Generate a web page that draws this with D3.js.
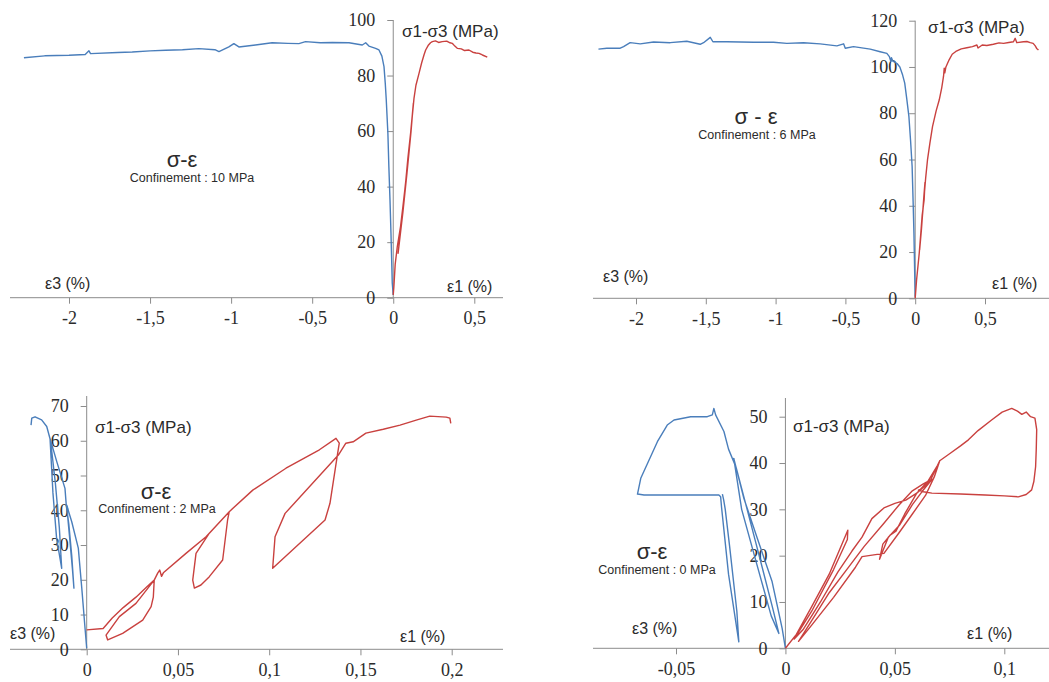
<!DOCTYPE html>
<html><head><meta charset="utf-8">
<script src="https://cdn.jsdelivr.net/npm/d3@7"></script>
<style>
html,body{margin:0;padding:0;background:#fff;}
svg{display:block;}
</style></head>
<body>
<svg id="chart" width="1049" height="682"></svg>
<script>
// ---------- DATA ----------
const panelTitles = ["σ-ε", "σ - ε", "σ-ε", "σ-ε"];
const confinementLabels = ["Confinement : 10 MPa", "Confinement : 6 MPa", "Confinement : 2 MPa", "Confinement : 0 MPa"];
const yAxisLabel = "σ1-σ3 (MPa)";
const eps3Label = "ε3 (%)";
const eps1Label = "ε1 (%)";

// Tick values
const p1XTicks = [-2, -1.5, -1, -0.5, 0, 0.5];
const p1YTicks = [0, 20, 40, 60, 80, 100];
const p2XTicks = [-2, -1.5, -1, -0.5, 0, 0.5];
const p2YTicks = [0, 20, 40, 60, 80, 100, 120];
const p3XTicks = [0, 0.05, 0.1, 0.15, 0.2];
const p3YTicks = [0, 10, 20, 30, 40, 50, 60, 70];
const p4XTicks = [-0.05, 0, 0.05, 0.1];
const p4YTicks = [0, 10, 20, 30, 40, 50];

// Panel 1 (confinement 10 MPa): [strain %, deviatoric stress MPa]
const p1Blue = [[-2.278,86.4],[-2.15,87.1],[-2.0,87.3],[-1.9,87.6],[-1.877,88.9],[-1.867,87.9],[-1.7,88.3],[-1.61,88.5],[-1.5,88.9],[-1.404,89.1],[-1.3,89.3],[-1.199,89.7],[-1.1,89.3],[-1.075,88.6],[-1.014,90.3],[-0.983,91.5],[-0.952,90.3],[-0.85,91],[-0.747,91.8],[-0.65,91.6],[-0.582,91.5],[-0.541,92.2],[-0.45,91.8],[-0.376,91.9],[-0.273,91.8],[-0.191,91.0],[-0.17,91.8],[-0.15,90.6],[-0.109,89.8],[-0.088,89.2],[-0.07,87],[-0.057,83.2],[-0.049,77],[-0.043,71.2],[-0.033,59.2],[-0.027,47.2],[-0.02,35.2],[-0.014,23.2],[-0.006,5.2],[0,1]];
const p1Red = [[0,1],[0.004,4],[0.012,12],[0.025,18.4],[0.035,22],[0.045,25.6],[0.06,33],[0.076,41.2],[0.09,50],[0.107,59.2],[0.118,66],[0.124,70],[0.11,60],[0.085,45],[0.06,31],[0.04,21],[0.03,16],[0.05,27],[0.07,38],[0.09,49],[0.107,59],[0.128,71.8],[0.14,76.5],[0.159,80.8],[0.175,84.5],[0.19,87.5],[0.2,89.2],[0.215,90.8],[0.23,91.8],[0.241,92.2],[0.26,92.5],[0.28,91.9],[0.302,92.2],[0.33,92.4],[0.35,91.8],[0.364,91.6],[0.38,90.6],[0.395,89.8],[0.42,89.6],[0.44,89.0],[0.467,89.2],[0.49,88.4],[0.51,88.1],[0.529,88],[0.55,87.4],[0.58,86.6]];

// Panel 2 (confinement 6 MPa)
const p2Blue = [[-2.269,107.7],[-2.209,108.1],[-2.113,108.1],[-2.089,108.8],[-2.042,110.5],[-1.97,110.0],[-1.874,110.8],[-1.755,110.5],[-1.636,111.1],[-1.54,109.8],[-1.516,110.5],[-1.468,112.8],[-1.449,110.9],[-1.349,110.9],[-1.158,110.7],[-1.015,110.7],[-0.919,110.2],[-0.8,110.5],[-0.681,110.0],[-0.561,109.1],[-0.513,110.0],[-0.501,108.1],[-0.442,108.8],[-0.322,107.7],[-0.251,106.6],[-0.203,105.9],[-0.185,104.5],[-0.175,102.5],[-0.17,104],[-0.16,102.5],[-0.13,101.5],[-0.11,100],[-0.09,96.5],[-0.075,93],[-0.06,86],[-0.045,78.5],[-0.033,68],[-0.022,57],[-0.015,42],[-0.009,28],[-0.004,12],[0,0.7]];
const p2Red = [[0,0],[0.01,8],[0.029,19.5],[0.04,28],[0.05,36],[0.064,42.5],[0.07,50],[0.062,44],[0.045,30],[0.032,21],[0.045,31],[0.064,44],[0.075,52],[0.088,59.8],[0.105,67],[0.124,74.2],[0.15,81],[0.172,85.7],[0.19,91],[0.203,96],[0.208,99.5],[0.212,97.5],[0.22,100],[0.243,103.1],[0.265,105.5],[0.291,106.7],[0.33,107.8],[0.37,108.3],[0.41,108.8],[0.442,109.5],[0.45,108.2],[0.48,109.5],[0.513,109.3],[0.56,109.8],[0.6,110.4],[0.633,110.2],[0.67,110.6],[0.704,110.9],[0.716,112.4],[0.728,110.5],[0.776,110.9],[0.8,111],[0.824,110.5],[0.845,110.2],[0.86,109.1],[0.87,108],[0.883,107.3]];

// Panel 3 (confinement 2 MPa)
const p3Blue = [[0,0.3],[-0.0009,6],[-0.0027,17.6],[-0.0046,29.1],[-0.0082,36.7],[-0.011,41.5],[-0.0095,33],[-0.0078,23],[-0.007,17.6],[-0.0082,27],[-0.0098,36],[-0.0112,41.5],[-0.0119,46.3],[-0.0164,54],[-0.0201,60.7],[-0.0185,45],[-0.0165,32],[-0.0137,23.3],[-0.015,35],[-0.0172,48],[-0.0198,60],[-0.0219,64.1],[-0.0247,66],[-0.0283,66.9],[-0.0301,66.5],[-0.0305,64.5]];
const p3Red = [[0,5.6],[0.009,6],[0.014,9],[0.02,12],[0.027,15],[0.033,18],[0.037,19.9],[0.0365,15],[0.0353,12.3],[0.0307,8.4],[0.0197,4.6],[0.0115,2.7],[0.0106,4.1],[0.0179,9.4],[0.027,13.2],[0.037,19.9],[0.0389,21.9],[0.040,22.8],[0.041,21],[0.042,22],[0.0544,27.6],[0.0654,32.4],[0.0781,39.6],[0.0772,37.2],[0.0745,25.7],[0.0672,20.9],[0.0626,18.5],[0.059,17.6],[0.0581,19.9],[0.0599,27.6],[0.0672,33.4],[0.0781,39.6],[0.091,45.8],[0.1092,52.1],[0.1275,57.4],[0.1366,60.7],[0.1384,59.3],[0.1375,56.4],[0.1333,42],[0.1306,37.2],[0.1019,23.3],[0.1032,32.4],[0.1087,39.1],[0.1379,55.9],[0.142,59.3],[0.146,59.7],[0.153,62.2],[0.1625,63.3],[0.1717,64.5],[0.181,66],[0.188,67.1],[0.197,66.8],[0.199,66.5],[0.1995,65]];

// Panel 4 (confinement 0 MPa)
const p4Blue = [[0,0],[-0.0015,4.3],[-0.0061,14.4],[-0.0129,23.8],[-0.019,32.4],[-0.0236,41],[-0.02,30],[-0.013,18],[-0.0065,7],[-0.003,3.2],[-0.006,9],[-0.012,20],[-0.0175,30],[-0.0225,39],[-0.026,43],[-0.0281,46.8],[-0.0319,50.4],[-0.0327,51.8],[-0.0334,50.4],[-0.0357,50],[-0.0433,50],[-0.0509,49.3],[-0.054,48.2],[-0.0585,44.6],[-0.0661,36.7],[-0.0676,33.3],[-0.0646,33.1],[-0.0433,33.1],[-0.0304,33.1],[-0.0296,32.7],[-0.0292,30.5],[-0.026,16],[-0.0213,1.4],[-0.0222,8],[-0.0255,22],[-0.0275,30],[-0.0282,32],[-0.0288,33.3]];
const p4Red = [[0,0],[0.005,3],[0.012,9],[0.02,16],[0.0285,25.5],[0.0283,23.5],[0.022,17],[0.012,8],[0.004,2],[0.008,4],[0.016,10],[0.024,16.5],[0.0304,21],[0.035,24],[0.0395,28],[0.045,30.3],[0.05,31.3],[0.055,32],[0.06,33.5],[0.065,36],[0.0695,39.5],[0.0705,40.5],[0.068,37],[0.064,33],[0.058,29],[0.052,25],[0.045,20.5],[0.035,19.8],[0.032,17.5],[0.022,11],[0.012,5],[0.006,1.5],[0.012,6],[0.02,12],[0.028,17],[0.036,22],[0.045,27],[0.052,31],[0.058,34],[0.063,35.5],[0.067,36.5],[0.0627,34],[0.058,31],[0.052,26.5],[0.047,24],[0.043,19.2],[0.0445,22.5],[0.048,24.5],[0.0505,25.3],[0.0545,29],[0.06,33.5],[0.066,36],[0.0705,40.5],[0.075,42],[0.08,43.7],[0.0836,45],[0.088,47],[0.0942,49.3],[0.099,51],[0.1034,51.8],[0.106,51.2],[0.108,50.5],[0.11,51],[0.112,50],[0.114,49.7],[0.1148,47.2],[0.1146,43],[0.1143,39.2],[0.1135,36],[0.1125,34.2],[0.11,33.2],[0.1064,32.7],[0.1,32.9],[0.0912,33.1],[0.08,33.3],[0.0669,33.5],[0.063,33.8],[0.0605,34.2]];

// ---------- LAYOUT ----------
const BLUE = "#4a7ebb", RED = "#c9413f", AXIS = "#8c8c8c", TXT = "#2b2b2b";
const SERIF = "'Liberation Serif', 'Times New Roman', serif";
const SANS = "'Liberation Sans', Arial, sans-serif";
const panels = [
  {blue:p1Blue, red:p1Red, xTicks:p1XTicks, yTicks:p1YTicks, xDom:[-2,0.5], xRange:[69,474.3], yDom:[0,100], yRange:[297.7,20], xLine:[10,503], yTop:20,
   lab:{sig:[402,31.7], e3:[45,283], e1:[447,286], title:[182,159], conf:[192,177.5]}},
  {blue:p2Blue, red:p2Red, xTicks:p2XTicks, yTicks:p2YTicks, xDom:[-2,0.5], xRange:[636,985], yDom:[0,120], yRange:[298.3,20.7], xLine:[593,1049], yTop:20.7,
   lab:{sig:[928,27.3], e3:[603,276], e1:[992,283], title:[756,116.5], conf:[757,134.5]}},
  {blue:p3Blue, red:p3Red, xTicks:p3XTicks, yTicks:p3YTicks, xDom:[0,0.2], xRange:[86.7,451.7], yDom:[0,70], yRange:[649.3,406], xLine:[10,503], yTop:396,
   lab:{sig:[95,427.3], e3:[10,633.3], e1:[400,636], title:[156,491], conf:[157,508.5]}},
  {blue:p4Blue, red:p4Red, xTicks:p4XTicks, yTicks:p4YTicks, xDom:[-0.05,0.1], xRange:[676,1004.3], yDom:[0,50], yRange:[648.3,416.7], xLine:[593,1049], yTop:398,
   lab:{sig:[793,426.7], e3:[632,628.3], e1:[967,633.3], title:[652,551.5], conf:[657,570]}}
];

const svg = d3.select("#chart");
const fmt = d => String(d).replace(".", ",");

panels.forEach((p, i) => {
  const x = d3.scaleLinear().domain(p.xDom).range(p.xRange);
  const y = d3.scaleLinear().domain(p.yDom).range(p.yRange);
  const g = svg.append("g");

  // X axis
  const gx = g.append("g").attr("transform", `translate(0,${y(0)})`)
    .call(d3.axisBottom(x).tickValues(p.xTicks).tickFormat(fmt).tickSize(6).tickPadding(8));
  gx.select(".domain").remove();
  gx.selectAll(".tick line").attr("stroke", AXIS);
  gx.selectAll(".tick text").style("font-family", SERIF).style("font-size", "18px").attr("fill", TXT);
  g.append("line").attr("x1", p.xLine[0]).attr("x2", p.xLine[1]).attr("y1", y(0)).attr("y2", y(0)).attr("stroke", AXIS).attr("stroke-width", 1);

  // Y axis
  const gy = g.append("g").attr("transform", `translate(${x(0)},0)`)
    .call(d3.axisLeft(y).tickValues(p.yTicks).tickFormat(fmt).tickSize(6).tickPadding(12));
  gy.select(".domain").remove();
  gy.selectAll(".tick line").attr("stroke", AXIS);
  gy.selectAll(".tick text").style("font-family", SERIF).style("font-size", "18px").attr("fill", TXT);
  g.append("line").attr("x1", x(0)).attr("x2", x(0)).attr("y1", p.yTop).attr("y2", y(0)).attr("stroke", AXIS).attr("stroke-width", 1);

  // Curves
  const line = d3.line().x(d => x(d[0])).y(d => y(d[1]));
  g.append("path").datum(p.blue).attr("d", line).attr("fill", "none").attr("stroke", BLUE).attr("stroke-width", 1.4).attr("stroke-linejoin", "round");
  g.append("path").datum(p.red).attr("d", line).attr("fill", "none").attr("stroke", RED).attr("stroke-width", 1.4).attr("stroke-linejoin", "round");

  // Labels
  const lab = (pos, txt, size, anchor) => g.append("text").attr("x", pos[0]).attr("y", pos[1])
    .attr("dominant-baseline", "central").attr("text-anchor", anchor)
    .style("font-family", SANS).style("font-size", size + "px").attr("fill", TXT).text(txt);
  lab(p.lab.sig, yAxisLabel, 17, "start");
  lab(p.lab.e3, eps3Label, 16, "start");
  lab(p.lab.e1, eps1Label, 16, "start");
  lab(p.lab.title, panelTitles[i], 22, "middle");
  lab(p.lab.conf, confinementLabels[i], 12.5, "middle");
});
</script>
</body></html>
